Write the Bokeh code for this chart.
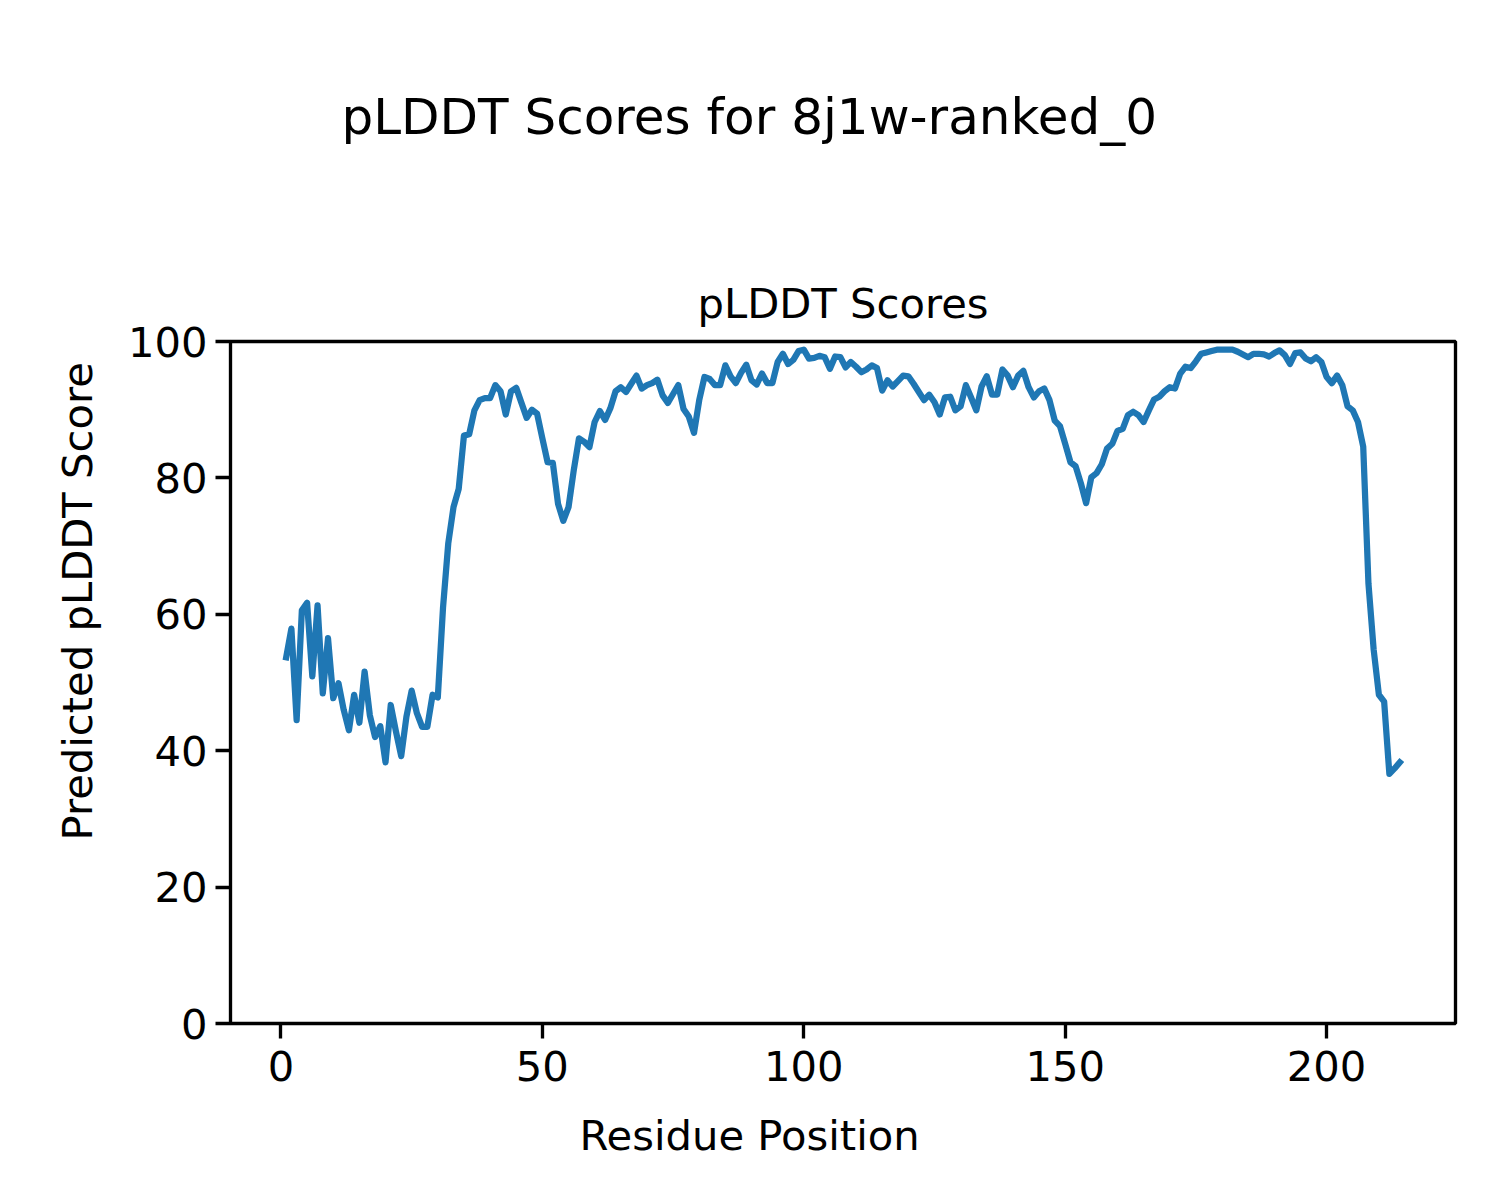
from bokeh.plotting import figure
from bokeh.models import Range1d, FixedTicker, Title
from bokeh.embed import file_html
from bokeh.resources import INLINE

# ---- data ----
residues = list(range(1, 215))
plddt = [
    53.7, 57.9, 44.5, 60.6, 61.7, 50.9, 61.3, 48.4, 56.5, 47.7,
    49.9, 46.0, 43.0, 48.2, 44.1, 51.6, 45.2, 42.0, 43.6, 38.3,
    46.7, 42.8, 39.2, 45.0, 48.8, 45.5, 43.5, 43.5, 48.2, 47.8,
    61.0, 70.4, 75.7, 78.4, 86.2, 86.4, 89.9, 91.4, 91.7, 91.7,
    93.6, 92.7, 89.3, 92.7, 93.2, 91.0, 88.8, 90.0, 89.4, 85.8,
    82.3, 82.2, 76.2, 73.7, 75.7, 81.1, 85.8, 85.3, 84.5, 88.2,
    89.8, 88.5, 90.2, 92.7, 93.3, 92.6, 93.8, 95.0, 93.1, 93.6,
    93.9, 94.4, 92.1, 91.0, 92.3, 93.6, 90.1, 89.0, 86.6, 91.4,
    94.8, 94.5, 93.6, 93.6, 96.5, 94.9, 93.9, 95.4, 96.6, 94.3,
    93.7, 95.3, 93.9, 93.9, 97.0, 98.2, 96.7, 97.3, 98.6, 98.8,
    97.5, 97.6, 97.9, 97.7, 96.0, 97.8, 97.7, 96.2, 97.0, 96.3,
    95.5, 95.9, 96.5, 96.1, 92.8, 94.3, 93.4, 94.2, 95.0, 94.9,
    93.8, 92.6, 91.4, 92.2, 91.1, 89.3, 91.8, 91.9, 89.9, 90.5,
    93.6, 91.8, 89.9, 93.4, 94.9, 92.2, 92.2, 95.9, 95.0, 93.3,
    95.0, 95.7, 93.3, 91.8, 92.7, 93.1, 91.4, 88.4, 87.6, 85.0,
    82.3, 81.7, 79.2, 76.3, 80.1, 80.7, 82.0, 84.3, 85.0, 86.9,
    87.2, 89.2, 89.7, 89.2, 88.2, 89.9, 91.5, 91.9, 92.7, 93.3,
    93.1, 95.3, 96.3, 96.1, 97.1, 98.2, 98.4, 98.6, 98.8, 98.8,
    98.8, 98.8, 98.5, 98.1, 97.7, 98.2, 98.2, 98.1, 97.8, 98.3,
    98.7, 98.0, 96.7, 98.3, 98.4, 97.5, 97.1, 97.7, 97.0, 94.8,
    93.9, 95.0, 93.6, 90.5, 89.9, 88.2, 84.6, 64.5, 54.8, 48.2,
    47.2, 36.6, 37.4, 38.3,
]
x_ticks = [0, 50, 100, 150, 200]
y_ticks = [0, 20, 40, 60, 80, 100]

suptitle = "pLDDT Scores for 8j1w-ranked_0"
axes_title = "pLDDT Scores"
x_label = "Residue Position"
y_label = "Predicted pLDDT Score"

# ---- layout (canvas pixels) ----
W, H = 1484, 1184
FL, FR, FT, FB = 230, 1455, 341, 1024  # frame edges

span = residues[-1] - residues[0]
XMIN = residues[0] - 0.05 * span
XMAX = residues[-1] + 0.05 * span

FONT = "DejaVu Sans"
FS = "41.7px"
LW = 3.33

p = figure(width=W, height=H, output_backend="svg", toolbar_location=None,
           x_range=Range1d(XMIN, XMAX), y_range=Range1d(0, 100),
           min_border_left=FL, min_border_right=W - FR,
           min_border_top=FT, min_border_bottom=H - FB)
p.background_fill_color = "white"
p.border_fill_color = "white"
p.xgrid.visible = False
p.ygrid.visible = False
p.outline_line_color = "black"
p.outline_line_width = LW
p.outline_line_alpha = 1.0

for ax in (p.xaxis[0], p.yaxis[0]):
    ax.axis_line_color = None
    ax.major_tick_line_color = "black"
    ax.major_tick_line_width = LW
    ax.major_tick_out = 15
    ax.major_tick_in = 0
    ax.minor_tick_line_color = None
    ax.major_label_text_font = FONT
    ax.major_label_text_font_size = FS
    ax.major_label_text_color = "black"
p.xaxis[0].ticker = FixedTicker(ticks=x_ticks)
p.yaxis[0].ticker = FixedTicker(ticks=y_ticks)
p.xaxis[0].major_label_standoff = 12
p.yaxis[0].major_label_standoff = 8

p.line(residues, plddt, line_color="#1f77b4", line_width=6.25,
       line_join="round", line_cap="square")

def make_title(text, size, standoff, align="center", offset=0):
    return Title(text=text, align=align, offset=offset, text_font=FONT,
                 text_font_size=size, text_font_style="normal",
                 text_color="black", standoff=standoff)

# figure-level title (outermost, left-aligned so it is centred on the figure)
p.title.text = suptitle
p.title.align = "left"
p.title.offset = 111
p.title.text_font = FONT
p.title.text_font_size = "50px"
p.title.text_font_style = "normal"
p.title.text_color = "black"
p.title.standoff = 20

# axes title next to the frame, then a blank spacer
p.add_layout(make_title(axes_title, FS, 28), "above")
p.add_layout(make_title(" ", "10px", 94), "above")

# figure-level axis labels
p.add_layout(make_title(x_label, FS, 50, align="left", offset=349), "below")
p.add_layout(make_title(y_label, FS, 46, align="left", offset=183), "left")

open("out.html", "w").write(file_html(p, INLINE))
